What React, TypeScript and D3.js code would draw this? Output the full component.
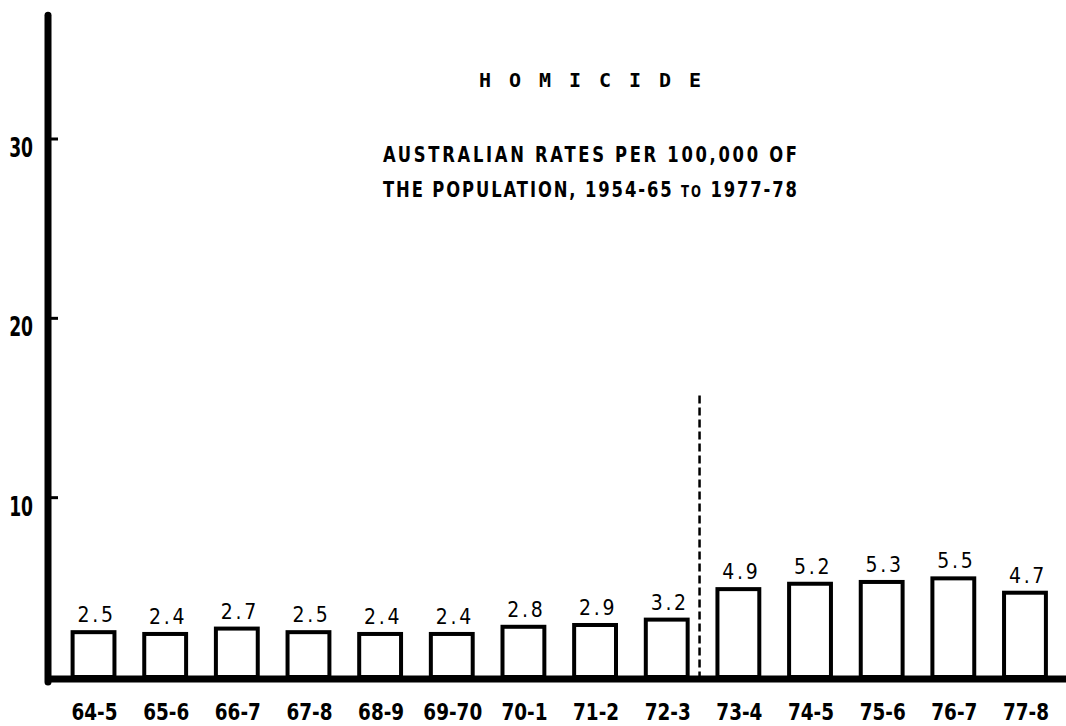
import React from "react";
import * as d3 from "d3";

const categories = ["64-5", "65-6", "66-7", "67-8", "68-9", "69-70", "70-1", "71-2", "72-3", "73-4", "74-5", "75-6", "76-7", "77-8"];
const rates = [2.5, 2.4, 2.7, 2.5, 2.4, 2.4, 2.8, 2.9, 3.2, 4.9, 5.2, 5.3, 5.5, 4.7];
const valueLabels = ["2.5", "2.4", "2.7", "2.5", "2.4", "2.4", "2.8", "2.9", "3.2", "4.9", "5.2", "5.3", "5.5", "4.7"];
const yTicks = [10, 20, 30];
const yAxisTop = 36.9;
const breakAfterIndex = 8;
const breakLineTop = 15.7;
const title = "HOMICIDE";
const subtitle1 = "AUSTRALIAN  RATES  PER  100,000  OF";
const subtitle2a = "THE  POPULATION, 1954-65 ";
const subtitle2b = "TO";
const subtitle2c = " 1977-78";

const W = 1066;
const H = 726;
const sans = "'DejaVu Sans', sans-serif";

function NText(props: {
  x: number;
  y: number;
  sx: number;
  anchor?: string;
  size: number;
  weight?: string;
  ls?: number;
  tl?: number;
  children: React.ReactNode;
}) {
  const { x, y, sx, anchor, size, weight, ls, tl, children } = props;
  return (
    <g transform={`translate(${x},${y}) scale(${sx},1)`}>
      <text
        x={0}
        y={0}
        textAnchor={anchor || "middle"}
        fontFamily={sans}
        fontSize={size}
        fontWeight={weight || "normal"}
        letterSpacing={ls || 0}
        textLength={tl ? tl / sx : undefined}
        lengthAdjust={tl ? "spacing" : undefined}
        fill="#000"
      >
        {children}
      </text>
    </g>
  );
}

export default function App() {
  const y = d3.scaleLinear().domain([0, 30]).range([677, 139]);
  const x = d3
    .scaleBand<string>()
    .domain(categories)
    .range([57.7, 1060.8])
    .paddingInner(0.36)
    .paddingOuter(0.18);
  const bw = x.bandwidth();
  const step = x.step();
  const axisX = 48;
  const axisY = 679;
  const breakX = (x(categories[breakAfterIndex]) as number) + bw + (step - bw) / 2 - 3;

  return (
    <svg
      width={W}
      height={H}
      viewBox={`0 0 ${W} ${H}`}
      style={{ position: "absolute", left: 0, top: 0, background: "#fff" }}
    >
      <rect x={0} y={0} width={W} height={H} fill="#fff" />
      {/* title */}
      <text
        x={590}
        y={87}
        textAnchor="middle"
        fontFamily="'DejaVu Sans Mono', monospace"
        fontWeight="bold"
        fontSize={20}
        textLength={222}
        lengthAdjust="spacing"
        fill="#000"
      >
        {title}
      </text>
      <NText x={590} y={162} sx={0.78} size={21} weight="bold" tl={414}>
        {subtitle1}
      </NText>
      <NText x={590} y={197} sx={0.78} size={21} weight="bold" tl={414}>
        {subtitle2a}
        <tspan fontSize={15}>{subtitle2b}</tspan>
        {subtitle2c}
      </NText>

      {/* bars */}
      {rates.map((v, i) => (
        <rect
          key={categories[i]}
          x={(x(categories[i]) as number) + 2}
          y={y(v)}
          width={bw - 4}
          height={y(0) - y(v)}
          fill="#fff"
          stroke="#000"
          strokeWidth={4}
        />
      ))}
      {/* value labels */}
      {rates.map((v, i) => (
        <NText
          key={"v" + categories[i]}
          x={(x(categories[i]) as number) + bw / 2 + 3}
          y={y(v) - 10}
          sx={0.9}
          size={21}
          ls={3}
        >
          {valueLabels[i]}
        </NText>
      ))}

      {/* dashed break line */}
      <line
        x1={breakX}
        x2={breakX}
        y1={y(breakLineTop)}
        y2={axisY}
        stroke="#000"
        strokeWidth={2.5}
        strokeDasharray="8 4"
      />

      {/* axes */}
      <line x1={axisX} x2={axisX} y1={y(yAxisTop)} y2={axisY + 3} stroke="#000" strokeWidth={7} strokeLinecap="round" />
      <line x1={axisX - 3} x2={W} y1={axisY} y2={axisY} stroke="#000" strokeWidth={7} />
      {yTicks.map((t) => (
        <g key={"t" + t}>
          <line x1={axisX} x2={axisX + 10} y1={y(t)} y2={y(t)} stroke="#000" strokeWidth={3} />
          <NText x={33} y={y(t) + 18} sx={0.66} anchor="end" size={26} weight="bold">
            {t}
          </NText>
        </g>
      ))}

      {/* category labels */}
      {categories.map((c) => (
        <NText key={"c" + c} x={(x(c) as number) + bw / 2 + 1} y={720} sx={0.8} size={23} weight="bold">
          {c}
        </NText>
      ))}
    </svg>
  );
}
